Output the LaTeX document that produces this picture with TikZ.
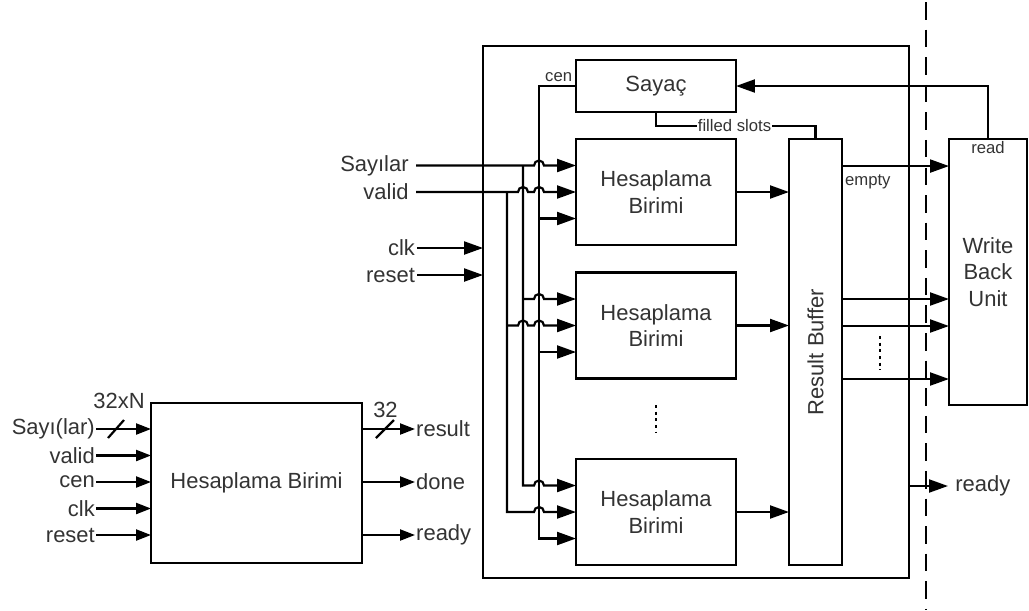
\documentclass[tikz,border=0pt]{standalone}
\usepackage{fontspec}
\setmainfont{Liberation Sans}
\usetikzlibrary{calc,arrows.meta}
\definecolor{txt}{HTML}{333333}
\tikzset{
	wire/.style={line width=1.25pt},
	sig/.style={wire,-{Triangle[length=0.38cm,width=0.26cm]}},
	sigs/.style={wire,-{Triangle[length=0.3cm,width=0.22cm]}},
	box/.style={draw,line width=1.25pt,inner sep=0pt,outer sep=0pt,align=center,text=txt,font=\fontsize{12.5}{15}\selectfont},
	lbl/.style={inner sep=1pt,text=txt,font=\fontsize{12.5}{15}\selectfont},
	tiny/.style={inner sep=1pt,text=txt,font=\fontsize{9.5}{11}\selectfont},
	hop/.style={insert path={arc[start angle=180,end angle=0,radius=0.1cm]}},
	dots/.style={line width=1.2pt,dash pattern=on 1.7pt off 2.1pt},
}

\begin{document}
\begin{tikzpicture}[x=0.02cm,y=-0.02cm]
\useasboundingbox (0,0) rectangle (1029,610);

% big unit
\node[box,minimum width=8.52cm,minimum height=10.64cm] (frame) at (696,312) {};
\node[box,minimum width=3.2cm,minimum height=1.04cm] (sayac) at (656,86) {Sayaç};
\node[box,minimum width=3.2cm,minimum height=2.12cm] (hb1) at (656,192) {Hesaplama\\Birimi};
\node[box,minimum width=3.2cm,minimum height=2.12cm] (hb2) at (656,325.5) {Hesaplama\\Birimi};
\node[box,minimum width=3.2cm,minimum height=2.12cm] (hb3) at (656,512) {Hesaplama\\Birimi};
\node[box,minimum width=1.06cm,minimum height=8.52cm] (rb) at (815.5,352) {};
\node[lbl,rotate=90] (rblbl) at (rb) {Result Buffer};
\node[box,minimum width=1.56cm,minimum height=5.32cm] (wb) at (988,272) {Write\\Back\\Unit};

\foreach \b in {hb1,hb2,hb3}{
	\coordinate (\b a) at ($(\b.west)+(0,-26.5)$);
	\coordinate (\b b) at (\b.west);
	\coordinate (\b c) at ($(\b.west)+(0,26.5)$);
}
\coordinate (bv) at (507,0);
\coordinate (bs) at (523,0);
\coordinate (bc) at (539,0);

% inputs
\node[lbl,anchor=east,inner xsep=4pt] (sayilar) at (hb1a -| 416,0) {Sayılar};
\node[lbl,anchor=east,inner xsep=4pt] (valid) at (hb1b -| 416,0) {valid};
\node[lbl,anchor=east] (clk) at (417,248) {clk};
\node[lbl,anchor=east] (reset) at (417,275) {reset};
\draw[sig] (clk.east) -- (frame.west |- clk.east);
\draw[sig] (reset.east) -- (frame.west |- reset.east);

% Sayılar bus
\draw[sig] (sayilar.east) -- ([xshift=-0.1cm]bc |- hb1a) [hop] -- (hb1a);
\draw[sig] (bs |- hb2a) -- ([xshift=-0.1cm]bc |- hb2a) [hop] -- (hb2a);
\draw[sig] (bs |- hb1a) -- (bs |- hb3a) -- ([xshift=-0.1cm]bc |- hb3a) [hop] -- (hb3a);

% valid bus
\draw[sig] (valid.east) -- ([xshift=-0.1cm]bs |- hb1b) [hop] -- ([xshift=-0.1cm]bc |- hb1b) [hop] -- (hb1b);
\draw[sig] (bv |- hb2b) -- ([xshift=-0.1cm]bs |- hb2b) [hop] -- ([xshift=-0.1cm]bc |- hb2b) [hop] -- (hb2b);
\draw[sig] (bv |- hb1b) -- (bv |- hb3b) -- ([xshift=-0.1cm]bc |- hb3b) [hop] -- (hb3b);

% cen
\draw[sig] (sayac.west) -- (bc |- sayac.west) -- (bc |- hb3c) -- (hb3c);
\draw[sig] (bc |- hb1c) -- (hb1c);
\draw[sig] (bc |- hb2c) -- (hb2c);
\node[tiny,anchor=south east,inner sep=2pt] (cen) at (sayac.west) {cen};

\foreach \b in {hb1,hb2,hb3}
	\draw[sig] (\b.east) -- (rb.west |- \b.east);
\draw[dots] (656,405) -- (656,432);

% filled slots
\draw[wire] (sayac.south) -- ++(0,14) -| (rb.north);
\node[tiny,fill=white,inner sep=0.5pt] (fs) at (734.5,126) {filled slots};

% write back
\draw[sig] (wb.north) |- (sayac.east);
\node[tiny,anchor=north] (read) at (wb.north) {read};
\coordinate (emp) at ($(rb.north east)+(0,27)$);
\draw[sig] (emp) -- (wb.west |- emp);
\node[tiny,anchor=base west] (emptylbl) at (843,185) {empty};
\foreach \y [count=\i] in {299,326,379}{
	\coordinate (rbo\i) at (rb.east |- 0,\y);
	\draw[sig] (rbo\i) -- (wb.west |- rbo\i);
}
\draw[dots] (880,336) -- (880,370);

\node[lbl,anchor=west,inner xsep=4pt] (rdy) at (948,486) {ready};
\draw[sig] (frame.east |- rdy) -- (rdy.west);

\draw[line width=1.1pt,dash pattern=on 10pt off 5.7pt] (926,2) -- (926,610);

% single unit
\node[box,minimum width=4.22cm,minimum height=3.2cm] (hb) at (256.5,483) {Hesaplama Birimi};
\foreach \t [count=\i] in {Sayı(lar),valid,cen,clk,reset}{
	\node[lbl,anchor=east,inner sep=0.5pt] (in\i) at (96,402.5+26.5*\i) {\t};
	\draw[sigs] (in\i.east) -- (hb.west |- in\i.east);
}
\draw[wire] (108,438) -- (124,420);
\node[lbl,anchor=base east,inner sep=0pt] (nin) at (145,408) {32xN};

\foreach \t/\y in {result/429,done/482,ready/535}{
	\node[lbl,anchor=west,inner sep=0.5pt] (\t) at (415,\y) {\t};
	\draw[sigs] (hb.east |- \t.west) -- (\t.west);
}
\draw[wire] (376,438) -- (394,420);
\node[lbl,anchor=base,inner sep=0pt] (nout) at (385.5,417) {32};
\end{tikzpicture}
\end{document}
